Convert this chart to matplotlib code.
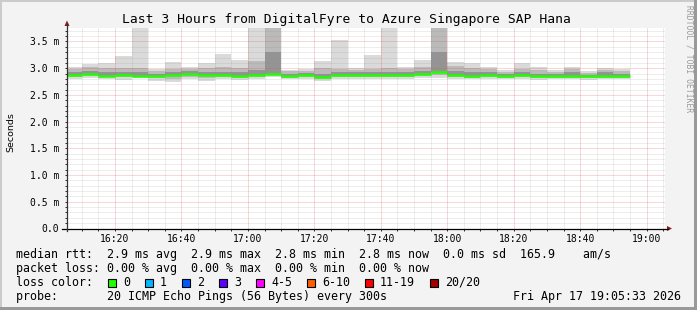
import matplotlib
matplotlib.use("Agg")
import matplotlib.pyplot as plt
import matplotlib.dates as mdates
import pandas as pd
from matplotlib.lines import Line2D
from matplotlib.patches import Polygon, Rectangle
from matplotlib.ticker import FuncFormatter, MultipleLocator

W, H = 697, 310
MONO = "DejaVu Sans Mono"

# 5-minute steps, each stamped with its end time
step_end = pd.date_range("2026-04-17 16:10", "2026-04-17 18:55", freq="5min")
view_start = pd.Timestamp("2026-04-17 16:05:33")
view_end = pd.Timestamp("2026-04-17 19:05:33")

# round trip times in ms (smoke bands + median)
rtt_max = [3.02, 3.07, 3.09, 3.23, 3.90, 2.98, 3.12, 3.02, 3.09, 3.27, 3.15, 3.90,
           3.90, 2.97, 2.98, 3.14, 3.52, 3.01, 3.25, 3.90, 3.03, 3.15, 3.90, 3.12,
           3.10, 3.03, 2.96, 3.10, 3.03, 2.96, 3.02, 2.94, 3.00, 2.98]
rtt_hi = [2.98, 3.03, 3.00, 3.01, 3.00, 2.95, 2.98, 2.99, 3.00, 3.02, 3.00, 3.14,
          3.90, 2.94, 2.95, 3.00, 2.98, 2.97, 2.98, 3.00, 2.98, 3.03, 3.90, 3.05,
          3.00, 2.98, 2.92, 2.98, 2.96, 2.92, 2.98, 2.91, 2.96, 2.95]
rtt_hi2 = [2.92, 2.95, 2.93, 2.93, 2.92, 2.90, 2.92, 2.94, 2.92, 2.93, 2.92, 2.97,
           3.30, 2.90, 2.91, 2.90, 2.92, 2.92, 2.92, 2.93, 2.93, 2.94, 3.31, 2.95,
           2.92, 2.93, 2.89, 2.92, 2.90, 2.89, 2.92, 2.88, 2.92, 2.90]
rtt_med = [2.87, 2.90, 2.86, 2.88, 2.86, 2.86, 2.88, 2.90, 2.87, 2.87, 2.86, 2.88,
           2.90, 2.86, 2.87, 2.84, 2.88, 2.87, 2.87, 2.87, 2.88, 2.89, 2.92, 2.88,
           2.86, 2.88, 2.86, 2.87, 2.85, 2.85, 2.85, 2.85, 2.85, 2.85]
rtt_lo = [2.83, 2.86, 2.83, 2.84, 2.84, 2.81, 2.80, 2.84, 2.82, 2.84, 2.82, 2.84,
          2.87, 2.82, 2.83, 2.80, 2.83, 2.83, 2.83, 2.84, 2.84, 2.85, 2.87, 2.84,
          2.82, 2.84, 2.82, 2.83, 2.81, 2.82, 2.82, 2.82, 2.82, 2.82]
rtt_min = [2.80, 2.82, 2.79, 2.78, 2.81, 2.77, 2.75, 2.79, 2.76, 2.80, 2.78, 2.79,
           2.83, 2.79, 2.80, 2.77, 2.79, 2.79, 2.79, 2.80, 2.80, 2.81, 2.82, 2.79,
           2.79, 2.80, 2.79, 2.79, 2.78, 2.79, 2.79, 2.78, 2.79, 2.79]

loss_labels = ["0", "1", "2", "3", "4-5", "6-10", "11-19", "20/20"]
loss_colors = ["#20ff00", "#00b8ff", "#0059ff", "#5e00ff", "#ff00ff", "#ff5e00", "#ff0000", "#a10000"]
loss_box_x = [108, 145, 182, 219, 256, 307, 365, 430]

stats_line = "median rtt:  2.9 ms avg  2.9 ms max  2.8 ms min  2.8 ms now  0.0 ms sd  165.9    am/s"
loss_line = "packet loss: 0.00 % avg  0.00 % max  0.00 % min  0.00 % now"
probe_line = "probe:       20 ICMP Echo Pings (56 Bytes) every 300s"
stamp = "Fri Apr 17 19:05:33 2026"
title = "Last 3 Hours from DigitalFyre to Azure Singapore SAP Hana"


def fx(x):
    return x / W


def fy(y):
    return 1 - y / H


fig = plt.figure(figsize=(W / 100, H / 100), dpi=100, facecolor="#f3f3f3")

# 3d frame
fig.add_artist(Rectangle((0, fy(2)), 1, 2 / H, transform=fig.transFigure, color="#cbcbcb", lw=0))
fig.add_artist(Rectangle((0, 0), 2 / W, 1, transform=fig.transFigure, color="#cbcbcb", lw=0))
fig.add_artist(Rectangle((0, 0), 1, 3 / H, transform=fig.transFigure, color="#999999", lw=0))
fig.add_artist(Rectangle((fx(694), 0), 3 / W, 1, transform=fig.transFigure, color="#999999", lw=0))

ax = fig.add_axes([fx(67), fy(228.5), 598 / W, 201 / H])
ax.set_facecolor("white")

left = mdates.date2num(step_end - pd.Timedelta(minutes=5))
width = 5 / 1440
bands = [
    (rtt_min, rtt_max, "#dadada"),
    (rtt_lo, rtt_hi, "#bababa"),
    (rtt_med, rtt_hi2, "#949494"),
]
for lo, hi, col in bands:
    ax.bar(left, [h - l for l, h in zip(lo, hi)], width, bottom=lo, align="edge",
           color=col, linewidth=0, antialiased=False, zorder=1)
ax.hlines(rtt_med, left, left + width, color="#20ff00", lw=1.8, zorder=3)

ax.set_xlim(view_start, view_end)
ax.set_ylim(0, 3.762)
ax.xaxis.set_major_locator(mdates.MinuteLocator(byminute=[0, 20, 40]))
ax.xaxis.set_minor_locator(mdates.MinuteLocator(byminute=range(0, 60, 5)))
ax.xaxis.set_major_formatter(mdates.DateFormatter("%H:%M"))
ax.yaxis.set_major_locator(MultipleLocator(0.5))
ax.yaxis.set_minor_locator(MultipleLocator(0.1))
ax.yaxis.set_major_formatter(FuncFormatter(lambda v, p: "0.0" if v == 0 else f"{v:.1f} m"))

ax.set_axisbelow(False)
ax.grid(which="minor", color="#8c8c8c", alpha=0.3, lw=0.72, ls=(0, (1, 1)))
ax.grid(which="major", color="#e05050", alpha=0.45, lw=0.72, ls=(0, (1, 1)))
for s in ax.spines.values():
    s.set_visible(False)
ax.tick_params(which="both", length=1.5, width=0.72, color="#333333", direction="out")
ax.tick_params(axis="x", pad=2.5, labelsize=7)
ax.tick_params(axis="y", pad=4, labelsize=7)
for lab in ax.get_xticklabels() + ax.get_yticklabels():
    lab.set_family(MONO)

# axis lines with arrows
fig.add_artist(Line2D([fx(62), fx(668)], [fy(228.5), fy(228.5)], transform=fig.transFigure,
                      color="black", lw=0.9))
fig.add_artist(Line2D([fx(67), fx(67)], [fy(231), fy(24)], transform=fig.transFigure,
                      color="#333333", lw=0.9))
fig.add_artist(Polygon([(fx(667), fy(226)), (fx(672), fy(228.5)), (fx(667), fy(231))],
                       closed=True, transform=fig.transFigure, color="#8b1a1a", lw=0))
fig.add_artist(Polygon([(fx(64.5), fy(26)), (fx(67), fy(20.5)), (fx(69.5), fy(26))],
                       closed=True, transform=fig.transFigure, color="#8b1a1a", lw=0))

fig.text(fx(346), fy(19), title, family=MONO, fontsize=9.4, ha="center", va="center")
fig.text(fx(10.5), fy(132), "Seconds", fontsize=6.8, rotation=90, ha="center", va="center")
fig.text(fx(689), fy(5), "RRDTOOL / TOBI OETIKER", family=MONO, fontsize=5.8, rotation=-90,
         ha="center", va="top", color="#9a9a9a")

fig.text(fx(16), fy(254.5), stats_line, family=MONO, fontsize=8.4, va="center")
fig.text(fx(16), fy(268.3), loss_line, family=MONO, fontsize=8.4, va="center")
fig.text(fx(16), fy(282.3), "loss color:", family=MONO, fontsize=8.4, va="center")
for bx, lab, col in zip(loss_box_x, loss_labels, loss_colors):
    fig.add_artist(Rectangle((fx(bx), fy(286.5)), 8 / W, 8 / H, transform=fig.transFigure,
                             facecolor=col, edgecolor="black", lw=0.8))
    fig.text(fx(bx + 15), fy(282.3), lab, family=MONO, fontsize=8.4, va="center")
fig.text(fx(16), fy(296.3), probe_line, family=MONO, fontsize=8.4, va="center")
fig.text(fx(681), fy(296.3), stamp, family=MONO, fontsize=8.4, va="center", ha="right")

fig.savefig("out.png", dpi=100, facecolor=fig.get_facecolor())
